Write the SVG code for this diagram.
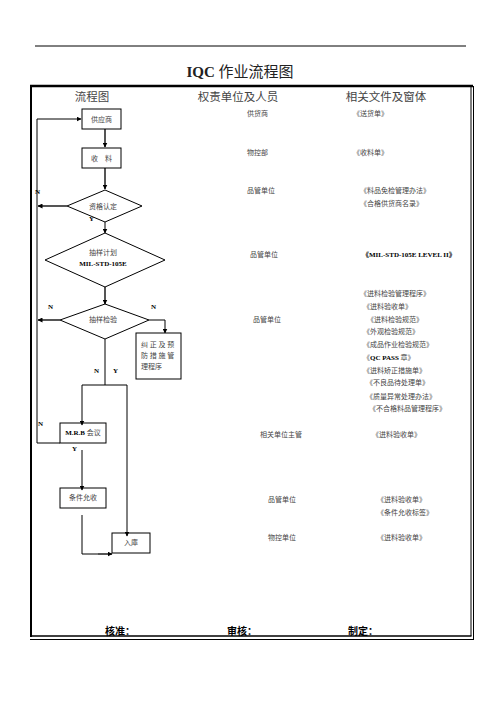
<svg xmlns="http://www.w3.org/2000/svg" width="496" height="702" viewBox="0 0 496 702">
<defs>
<marker id="ah" viewBox="0 0 10 10" refX="9" refY="5" markerWidth="5" markerHeight="5" orient="auto" markerUnits="userSpaceOnUse"><path d="M0,0 L10,5 L0,10 z" fill="#000"/></marker>
<style>
.t{font-family:"Liberation Serif","Noto Sans CJK SC",serif;font-size:7px;fill:#444}
.h{font-family:"Liberation Serif","Noto Sans CJK SC",serif;font-size:11.5px;fill:#444;text-anchor:middle}
.n{fill:#fff;stroke:#000;stroke-width:1}
.c{fill:none;stroke:#000;stroke-width:1}
.g{fill:none;stroke:#555;stroke-width:2}
.m{text-anchor:middle}
.b{font-weight:bold;fill:#000}
.f{font-family:"Liberation Sans","Noto Sans CJK SC",sans-serif;font-size:10px;font-weight:bold;fill:#000}
</style>
</defs>
<rect width="496" height="702" fill="#fff"/>
<line x1="35" y1="46" x2="466" y2="46" stroke="#000" stroke-width="1"/>
<text x="240" y="77" text-anchor="middle" font-family="Liberation Serif,'Noto Sans CJK SC',serif" font-size="15" fill="#222"><tspan font-weight="bold">IQC</tspan> 作业流程图</text>
<g id="frame">
<line x1="30" y1="86" x2="473" y2="86" stroke="#000" stroke-width="2.5"/>
<line x1="31" y1="85" x2="31" y2="637" stroke="#000" stroke-width="2"/>
<line x1="471" y1="86" x2="471" y2="636" stroke="#000" stroke-width="1"/>
<line x1="473.5" y1="86" x2="473.5" y2="639.5" stroke="#000" stroke-width="1"/>
<line x1="30" y1="636" x2="471.5" y2="636" stroke="#000" stroke-width="1.5"/>
<line x1="30" y1="639.5" x2="474" y2="639.5" stroke="#000" stroke-width="1"/>
</g>
<text class="h" x="92" y="101">流程图</text>
<text class="h" x="238" y="101">权责单位及人员</text>
<text class="h" x="386" y="101">相关文件及窗体</text>
<g id="connectors">
<line class="g" x1="105" y1="129" x2="105" y2="147" marker-end="url(#ah)"/>
<line class="g" x1="105" y1="168" x2="105" y2="189" marker-end="url(#ah)"/>
<line class="g" x1="67" y1="206" x2="38" y2="206" marker-end="url(#ah)"/>
<line class="c" x1="105" y1="222" x2="105" y2="233" marker-end="url(#ah)"/>
<line class="g" x1="105" y1="287" x2="105" y2="304" marker-end="url(#ah)"/>
<line class="g" x1="60" y1="320" x2="38" y2="320" marker-end="url(#ah)"/>
<polyline class="c" points="149,320 165,320 165,333" marker-end="url(#ah)"/>
<line class="c" x1="105" y1="339" x2="105" y2="385"/>
<polyline class="c" points="82,385 127,385"/>
<line class="c" x1="82" y1="385" x2="82" y2="425" marker-end="url(#ah)"/>
<line class="c" x1="127" y1="385" x2="127" y2="536" marker-end="url(#ah)"/>
<polyline class="c" points="60,443 37,443 37,119 81,119" marker-end="url(#ah)"/>
<line class="c" x1="82" y1="450" x2="82" y2="490" marker-end="url(#ah)"/>
<polyline class="c" points="82,515 82,554 100,554"/>
<line class="g" x1="98" y1="554" x2="112" y2="554" marker-end="url(#ah)"/>
</g>
<g id="n-supplier"><rect class="n" x="82" y="109" width="39" height="20"/><text class="t m" x="101.5" y="122">供应商</text></g>
<g id="n-receive"><rect class="n" x="82" y="148" width="39" height="20"/><text class="t m" x="101.5" y="161" xml:space="preserve">收　料</text></g>
<g id="n-qualify"><polygon class="n" points="105,190 142,206 105,222 67,206" fill-opacity="0"/><text class="t m" x="103" y="209">资格认定</text></g>
<g id="n-plan"><polygon class="n" points="105,233 165,260 105,287 45,260" fill-opacity="0"/><text class="t m" x="103" y="255">抽样计划</text><text class="t m b" x="103" y="266" font-size="6.5">MIL-STD-105E</text></g>
<g id="n-inspect"><polygon class="n" points="105,304 149,320 105,339 60,320" fill-opacity="0"/><text class="t m" x="103" y="322">抽样检验</text></g>
<g id="n-corrective"><rect class="n" x="136" y="333" width="45" height="46"/><text class="t" x="141" y="347" xml:space="preserve">纠 正 及 预</text><text class="t" x="141" y="358" xml:space="preserve">防 措 施 管</text><text class="t" x="141" y="369">理程序</text></g>
<g id="n-mrb"><rect class="n" x="60" y="423" width="46" height="20" fill-opacity="0"/><text class="t m" x="83" y="435"><tspan class="b">M.R.B</tspan> 会议</text></g>
<g id="n-conditional"><rect class="n" x="60" y="488" width="46" height="20" fill-opacity="0"/><text class="t m" x="83" y="500">条件允收</text></g>
<g id="n-store"><rect class="n" x="112" y="533" width="38" height="20" fill-opacity="0"/><text class="t m" x="131" y="545">入庫</text></g>
<g id="labels">
<text class="t b" x="35" y="194" font-size="6">N</text>
<text class="t b" x="89" y="221" font-size="6">Y</text>
<text class="t b" x="48" y="309" font-size="6">N</text>
<text class="t b" x="151" y="309" font-size="6">N</text>
<text class="t b" x="94" y="373" font-size="6">N</text>
<text class="t b" x="113" y="373" font-size="6">Y</text>
<text class="t b" x="38" y="426" font-size="6">N</text>
<text class="t b" x="72" y="451" font-size="6">Y</text>
</g>
<g id="col2">
<text class="t" x="247" y="116">供货商</text>
<text class="t" x="247" y="155">物控部</text>
<text class="t" x="247" y="193">品管单位</text>
<text class="t" x="250" y="257">品管单位</text>
<text class="t" x="253" y="322">品管单位</text>
<text class="t" x="260" y="437">相关单位主管</text>
<text class="t" x="268" y="502">品管单位</text>
<text class="t" x="268" y="540">物控单位</text>
</g>
<g id="col3">
<text class="t" x="353" y="116">《送货单》</text>
<text class="t" x="353" y="155">《收料单》</text>
<text class="t" x="360" y="193">《料品免检管理办法》</text>
<text class="t" x="360" y="206">《合格供货商名录》</text>
<text class="t b" x="362" y="257" font-size="6.5">《MIL-STD-105E LEVEL II》</text>
<text class="t" x="360" y="296">《进料检验管理程序》</text>
<text class="t" x="363" y="309">《进料验收单》</text>
<text class="t" x="367" y="322">《进料检验规范》</text>
<text class="t" x="363" y="334">《外观检验规范》</text>
<text class="t" x="363" y="347">《成品作业检验规范》</text>
<text class="t" x="363" y="360">《<tspan class="b">QC PASS</tspan> 章》</text>
<text class="t" x="363" y="373">《进料矫正措施单》</text>
<text class="t" x="366" y="385">《不良品待处理单》</text>
<text class="t" x="366" y="399">《质量异常处理办法》</text>
<text class="t" x="369" y="411">《不合格料品管理程序》</text>
<text class="t" x="372" y="437">《进料验收单》</text>
<text class="t" x="377" y="502">《进料验收单》</text>
<text class="t" x="377" y="515">《条件允收标签》</text>
<text class="t" x="377" y="540">《进料验收单》</text>
</g>
<g id="footer">
<text class="f" x="105" y="635">核准：</text>
<text class="f" x="227" y="635">审核：</text>
<text class="f" x="348" y="635">制定：</text>
</g>
</svg>
